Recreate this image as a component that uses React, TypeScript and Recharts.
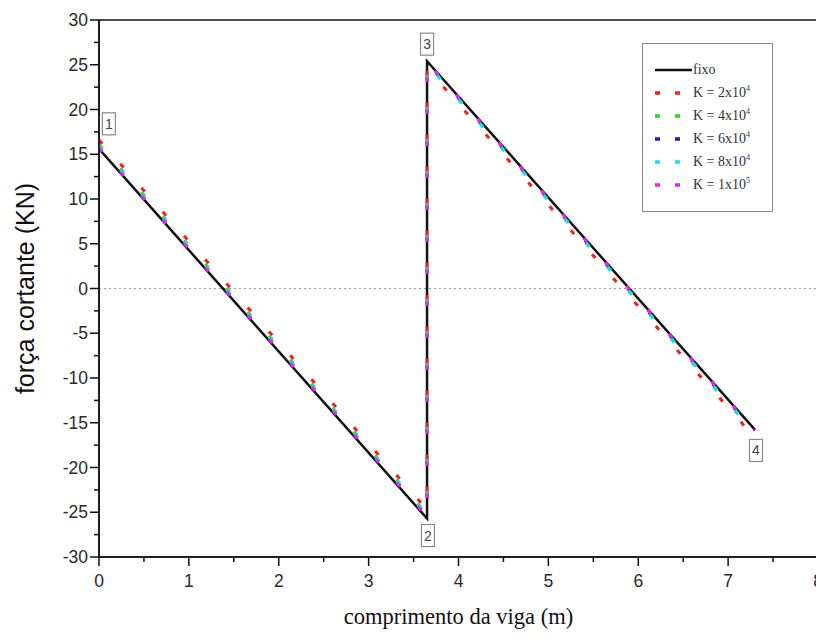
import { LineChart, Line, XAxis, YAxis, ReferenceLine, ReferenceArea, ReferenceDot } from "recharts";

// beam positions (m) for each series: start, support 2/3 jump, end
const xPos = [0, 3.65, 3.65, 7.3];

// shear force (kN) at those positions
const fixo = [15.6, -25.7, 25.4, -15.8];
const k2e4 = [16.6, -24.7, 24.6, -16.7];
const k4e4 = [16.1, -25.2, 25.1, -16.2];
const k6e4 = [15.8, -25.4, 25.2, -16.0];
const k8e4 = [15.9, -25.3, 25.1, -16.1];
const k1e5 = [15.7, -25.5, 25.3, -15.9];

const xTicks = [0, 0.5, 1, 1.5, 2, 2.5, 3, 3.5, 4, 4.5, 5, 5.5, 6, 6.5, 7, 7.5, 8];
const yTicks = [-30, -27.5, -25, -22.5, -20, -17.5, -15, -12.5, -10, -7.5, -5, -2.5, 0,
  2.5, 5, 7.5, 10, 12.5, 15, 17.5, 20, 22.5, 25, 27.5, 30];

const nodes = [
  { n: "1", x: 0.11, y: 18.4 },
  { n: "3", x: 3.65, y: 27.3 },
  { n: "2", x: 3.66, y: -27.6 },
  { n: "4", x: 7.31, y: -18.1 },
];

const kSeries = [
  { name: "K = 2x10", exp: "4", color: "#ff1a1a", values: k2e4 },
  { name: "K = 4x10", exp: "4", color: "#22dd22", values: k4e4 },
  { name: "K = 6x10", exp: "4", color: "#1a1acc", values: k6e4 },
  { name: "K = 8x10", exp: "4", color: "#11e0f0", values: k8e4 },
  { name: "K = 1x10", exp: "5", color: "#ee22ee", values: k1e5 },
];

const toRows = (vals: number[]) => vals.map((v, i) => ({ x: xPos[i], y: v }));

const XTick = ({ x, y, payload }: any) => {
  const major = Number.isInteger(payload.value);
  return (
    <g>
      <line x1={x} x2={x} y1={y} y2={y + (major ? 9 : 5)} stroke="#111" strokeWidth={1.5} />
      {major && (
        <text x={x} y={y + 30} textAnchor="middle" fontSize={17.5} fill="#2a2a2a" fontFamily="Liberation Sans, Arial">
          {payload.value}
        </text>
      )}
    </g>
  );
};

const YTick = ({ x, y, payload }: any) => {
  const major = payload.value % 5 === 0;
  return (
    <g>
      <line x1={x} x2={x - (major ? 9 : 5)} y1={y} y2={y} stroke="#111" strokeWidth={1.5} />
      {major && (
        <text x={x - 11} y={y} dy={6} textAnchor="end" fontSize={17.5} fill="#2a2a2a" fontFamily="Liberation Sans, Arial">
          {payload.value}
        </text>
      )}
    </g>
  );
};

const NodeBox = ({ cx, cy, label }: any) => (
  <g>
    <rect x={cx - 6.5} y={cy - 11} width={13} height={22} fill="#fff" stroke="#888" strokeWidth={1.2} />
    <text x={cx} y={cy + 5} textAnchor="middle" fontSize={14} fill="#444" fontFamily="Liberation Sans, Arial">
      {label}
    </text>
  </g>
);

export default function App() {
  return (
    <div style={{ position: "relative", width: 816, height: 628 }}>
      <LineChart width={816} height={628} margin={{ top: 12, right: 6, bottom: 0, left: 0 }}>
        <XAxis
          dataKey="x"
          type="number"
          domain={[0, 8]}
          ticks={xTicks}
          interval={0}
          height={79}
          tickSize={0}
          tickMargin={0}
          tickLine={false}
          tick={<XTick />}
          axisLine={{ stroke: "#111", strokeWidth: 1.5 }}
          allowDataOverflow
          label={({ viewBox }: any) => (
            <text
              x={viewBox.x + viewBox.width / 2}
              y={616}
              textAnchor="middle"
              fontSize={22.5}
              fill="#111"
              fontFamily="Liberation Serif, Times New Roman"
            >
              comprimento da viga (m)
            </text>
          )}
        />
        <YAxis
          dataKey="y"
          type="number"
          domain={[-30, 30]}
          ticks={yTicks}
          interval={0}
          width={91}
          tickSize={0}
          tickMargin={0}
          tickLine={false}
          tick={<YTick />}
          axisLine={{ stroke: "#111", strokeWidth: 1.5 }}
          allowDataOverflow
          label={({ viewBox }: any) => {
            const cy = viewBox.y + viewBox.height / 2;
            return (
              <text
                x={17}
                y={cy}
                transform={`rotate(-90 17 ${cy})`}
                textAnchor="middle"
                dominantBaseline="central"
                fontSize={25}
                fill="#111"
                fontFamily="Liberation Sans, Arial"
              >
                força cortante (KN)
              </text>
            );
          }}
        />
        <ReferenceArea x1={0} x2={8} y1={-30} y2={30} fill="none" stroke="#111" strokeWidth={1.5} fillOpacity={0} />
        <ReferenceLine y={0} stroke="#999" strokeDasharray="2 3" strokeWidth={1} />
        <Line
          data={toRows(fixo)}
          dataKey="y"
          name="fixo"
          stroke="#111"
          strokeWidth={2.5}
          dot={false}
          activeDot={false}
          isAnimationActive={false}
        />
        {kSeries.map((s) => (
          <Line
            key={s.name + s.exp}
            data={toRows(s.values)}
            dataKey="y"
            name={s.name + s.exp}
            stroke={s.color}
            strokeWidth={3}
            strokeDasharray="5 27"
            dot={false}
            activeDot={false}
            isAnimationActive={false}
          />
        ))}
        {nodes.map((p) => (
          <ReferenceDot
            key={p.n}
            x={p.x}
            y={p.y}
            r={0}
            shape={(props: any) => <NodeBox cx={props.cx} cy={props.cy} label={p.n} />}
          />
        ))}
      </LineChart>
      <div
        style={{
          position: "absolute",
          left: 634,
          top: 35,
          width: 131,
          height: 169,
          boxSizing: "border-box",
          border: "1.5px solid #888",
          background: "#fff",
          fontFamily: "Liberation Serif, Times New Roman",
          fontSize: 14,
          color: "#333",
          paddingTop: 14,
          paddingLeft: 12,
        }}
      >
        <div style={{ display: "flex", alignItems: "center", height: 23 }}>
          <svg width={38} height={6}>
            <line x1={0} x2={37} y1={3} y2={3} stroke="#111" strokeWidth={2.5} />
          </svg>
          <span>fixo</span>
        </div>
        {kSeries.map((s) => (
          <div key={s.name + s.exp} style={{ display: "flex", alignItems: "center", height: 23 }}>
            <svg width={38} height={6}>
              <line x1={0} x2={26} y1={3} y2={3} stroke={s.color} strokeWidth={3.5} strokeDasharray="5 15" />
            </svg>
            <span>
              {s.name}
              <sup style={{ fontSize: 8 }}>{s.exp}</sup>
            </span>
          </div>
        ))}
      </div>
    </div>
  );
}
